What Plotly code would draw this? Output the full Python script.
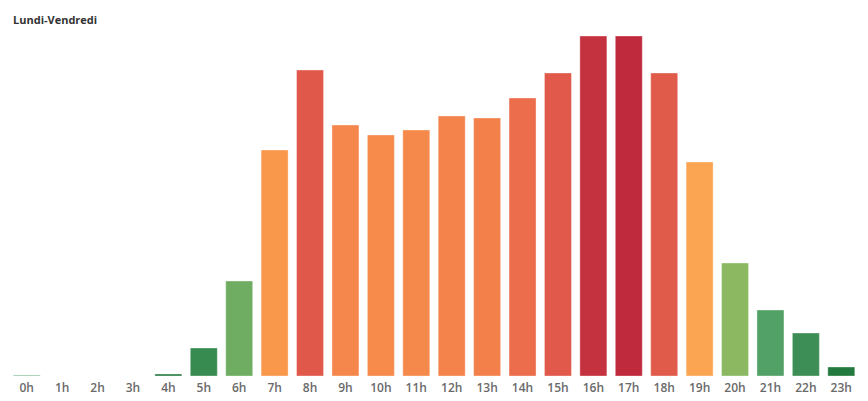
import plotly.graph_objects as go

hours = [f"{h}h" for h in range(24)]
values = [1, 0, 0, 0, 2, 28, 95, 226, 306, 251, 241, 246, 260, 258, 278, 303, 340, 340, 303, 214, 113, 66, 43, 9]
colors = ["#86c196", "#ffffff", "#ffffff", "#ffffff", "#2b7c44", "#378a50", "#6fae62", "#f9974b",
          "#e0584a", "#f5874c", "#f68b4c", "#f5894c", "#f4824b", "#f3804b", "#ec6d4b", "#e0594a",
          "#c4313f", "#bf2a3d", "#e05b4a", "#fba553", "#8cb862", "#52a166", "#3d8e56", "#237a3e"]

fig = go.Figure(go.Bar(
    x=hours, y=values,
    marker=dict(color=colors, line=dict(color="rgba(255,255,255,0.35)", width=1)),
    hoverinfo="x+y",
))

fig.update_layout(
    width=868, height=401,
    margin=dict(l=9, r=9, t=36, b=25),
    paper_bgcolor="white", plot_bgcolor="white",
    bargap=0.238,
    showlegend=False,
    font=dict(family="Open Sans, sans-serif"),
    annotations=[dict(text="<b>Lundi-Vendredi</b>", xref="paper", yref="paper",
                      x=0, xshift=2, y=1, yshift=17, xanchor="left", yanchor="middle",
                      showarrow=False, font=dict(size=11, color="#333333"))],
)
fig.update_xaxes(type="category", showgrid=False, showline=False, zeroline=False, ticks="",
                 automargin=False,
                 tickfont=dict(size=12, color="#6a6a6a", weight=600), ticklabelstandoff=3)
fig.update_yaxes(range=[0, 340], visible=False, showgrid=False, zeroline=False, automargin=False)

fig.write_html("out.html", config={"displayModeBar": False},
               post_script="document.body.style.margin='0';document.body.style.overflow='hidden';")
